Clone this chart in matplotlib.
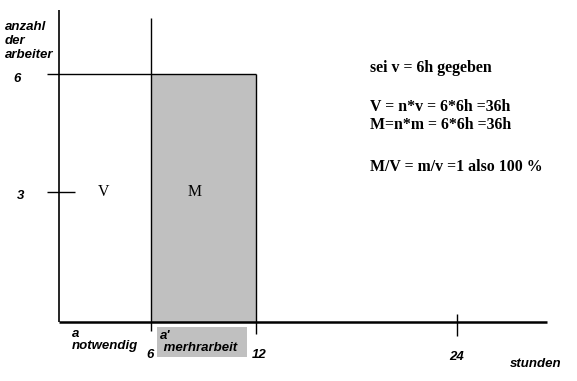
import numpy as np
import matplotlib
matplotlib.use("Agg")
import matplotlib.pyplot as plt
from matplotlib.patches import Rectangle

# ---- data ----
workers = 6                 # anzahl der arbeiter
necessary_hours = 6         # notwendige arbeitszeit (a)
workday_hours = 12          # ende der mehrarbeit (a')
x_tick_values = [6, 12, 24]
x_tick_labels = ["6", "12", "24"]
y_tick_values = [3, 6]
y_tick_labels = ["3", "6"]
notes = ["sei v = 6h gegeben", "V = n*v = 6*6h =36h", "M=n*m = 6*6h =36h", "M/V = m/v =1 also 100 %"]

W, H = 577, 381
fig = plt.figure(figsize=(W / 100, H / 100), dpi=100)
ax = fig.add_axes([0, 0, 1, 1])

# hand-drawn axis calibration (value -> figure pixel), piecewise linear
xv = np.array([-50.0, 0, 6, 12, 24, 100])
xp = np.array([59 - 50 * 92 / 6, 59, 151, 256, 457, 457 + 76 * 201 / 12])
yv = np.array([-50.0, 0, 3, 6, 100])
yp = np.array([59 - 50 * 130 / 3, 59, 189, 307, 307 + 94 * 118 / 3])

def fx(v): return np.interp(v, xv, xp)
def ix(p): return np.interp(p, xp, xv)
def fy(v): return np.interp(v, yv, yp)
def iy(p): return np.interp(p, yp, yv)

ax.set_xscale("function", functions=(fx, ix))
ax.set_yscale("function", functions=(fy, iy))
ax.set_xlim(ix(0), ix(W))
ax.set_ylim(iy(0), iy(H))
ax.axis("off")

def px_x(p): return float(ix(p))
def px_y(p): return float(iy(H - p))

k = dict(color="black", solid_capstyle="butt")
# surplus labour block
ax.add_patch(Rectangle((necessary_hours, 0), workday_hours - necessary_hours, workers,
                       facecolor="#c0c0c0", edgecolor="none"))
# axes
ax.plot([0, 0], [0, px_y(10)], lw=1.2, **k)
ax.plot([0, px_x(547)], [0, 0], lw=1.8, **k)
# lines
ax.plot([necessary_hours, necessary_hours], [px_y(331), px_y(18)], lw=1.0, **k)
ax.plot([px_x(47), workday_hours], [workers, workers], lw=1.0, **k)
ax.plot([workday_hours, workday_hours], [px_y(334), workers], lw=1.0, **k)
ax.plot([px_x(47), px_x(75)], [3, 3], lw=1.0, **k)
ax.plot([24, 24], [px_y(314), px_y(336)], lw=1.0, **k)

# gray label box below axis
ax.add_patch(Rectangle((px_x(157), px_y(357)), px_x(247) - px_x(157), px_y(327) - px_y(357),
                       facecolor="#c0c0c0", edgecolor="none"))

sans = dict(family="Liberation Sans", weight="bold", style="italic", fontsize=9.5, color="black")
def ftext(x, y, s, **kw):
    fig.text(x / W, 1 - y / H, s, **kw)

ftext(5, 41, "anzahl\nder\narbeiter", ha="left", va="center", linespacing=1.2, **sans)
ftext(17, 79, y_tick_labels[1], ha="center", va="center", **sans)
ftext(21, 196, y_tick_labels[0], ha="center", va="center", **sans)
ftext(72, 340, "a\nnotwendig", ha="left", va="center", linespacing=1.0, **sans)
ftext(160, 342, "a'\n merhrarbeit", ha="left", va="center", linespacing=1.0, **sans)
ftext(150, 355, x_tick_labels[0], ha="center", va="center", **sans)
ftext(259, 355, x_tick_labels[1], ha="center", va="center", **sans)
ftext(457, 357, x_tick_labels[2], ha="center", va="center", **sans)
ftext(510, 364, "stunden", ha="left", va="center", **sans)

serif = dict(family="Liberation Serif", fontsize=11.4, color="black")
ftext(104, 192, "V", ha="center", va="center", **serif)
ftext(195, 192, "M", ha="center", va="center", **serif)

ftext(370, 68, notes[0], ha="left", va="center", weight="bold", **serif)
ftext(370, 107, notes[1], ha="left", va="center", weight="bold", **serif)
ftext(370, 125, notes[2], ha="left", va="center", weight="bold", **serif)
ftext(370, 167, notes[3], ha="left", va="center", weight="bold", **serif)

fig.savefig("out.png", dpi=100)
